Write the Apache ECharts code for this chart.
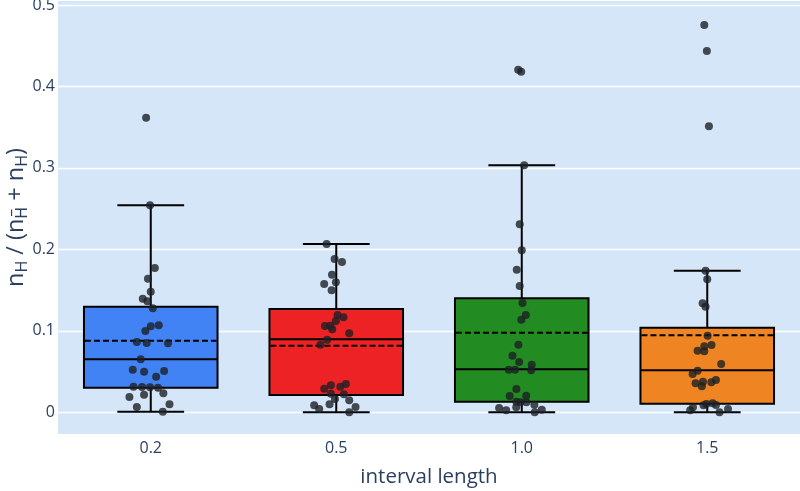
<!DOCTYPE html>
<html>
<head>
<meta charset="utf-8">
<script src="https://cdn.jsdelivr.net/npm/echarts@6/dist/echarts.min.js"></script>
<style>
html,body{margin:0;padding:0;background:#fff;}
#chart{width:800px;height:491px;}
</style>
</head>
<body>
<div id="chart"></div>
<script>
// ---------- data ----------
const categories = ['0.2', '0.5', '1.0', '1.5'];
const yTicks = [0, 0.1, 0.2, 0.3, 0.4, 0.5];

// box statistics
const whiskerLow = [0.0007, 0.0, 0.0, 0.0];
const q1 = [0.0302, 0.0212, 0.0130, 0.0106];
const median = [0.0651, 0.0896, 0.0528, 0.0516];
const q3 = [0.1296, 0.1268, 0.1400, 0.1039];
const whiskerHigh = [0.2541, 0.2066, 0.3032, 0.1738];
const mean = [0.0879, 0.0818, 0.0977, 0.0945];

// individual observations (jitter offset in category units, value)
const jitter02 = [-0.025, -0.004, 0.022, -0.015, 0, -0.043, -0.018, 0.011, 0, 0.043, -0.029, -0.075, -0.022, 0.093, -0.054, -0.097, -0.036, 0.072, 0.029, -0.093, -0.047, -0.004, 0.039, -0.115, -0.036, 0.068, -0.075, 0.101, 0.065];
const values02 = [0.3617, 0.2541, 0.1771, 0.164, 0.148, 0.1395, 0.1363, 0.1277, 0.1056, 0.1068, 0.0998, 0.0863, 0.0851, 0.0847, 0.0651, 0.0523, 0.0498, 0.0507, 0.0437, 0.0315, 0.0311, 0.0307, 0.0302, 0.0188, 0.0216, 0.0233, 0.0065, 0.0098, 0.0007];

const jitter05 = [-0.052, -0.009, 0.031, -0.023, -0.065, -0.002, -0.025, 0.007, 0.039, -0.002, -0.061, -0.032, -0.022, 0.070, -0.049, -0.085, 0.052, 0.022, -0.029, -0.065, -0.029, 0.041, -0.007, 0.070, -0.119, -0.092, -0.036, 0.104, 0.070];
const values05 = [0.2066, 0.1882, 0.1845, 0.1689, 0.1575, 0.1596, 0.1498, 0.1194, 0.1166, 0.1121, 0.1059, 0.1063, 0.1019, 0.097, 0.0891, 0.083, 0.0347, 0.0314, 0.0331, 0.029, 0.0228, 0.0221, 0.0163, 0.0147, 0.0086, 0.0041, 0.0098, 0.0065, 0.0];

const jitter10 = [-0.019, -0.003, 0.013, -0.011, 0, -0.027, -0.011, 0.004, 0.022, -0.002, -0.018, -0.050, -0.014, 0.054, -0.070, -0.036, 0.051, -0.029, -0.065, 0.024, -0.029, -0.007, 0.025, -0.122, -0.084, -0.030, 0.068, 0.108, 0.070];
const values10 = [0.4206, 0.4181, 0.3032, 0.2308, 0.1989, 0.1751, 0.155, 0.1342, 0.1194, 0.1137, 0.083, 0.0695, 0.0617, 0.0584, 0.0523, 0.0523, 0.0516, 0.0286, 0.02, 0.0204, 0.013, 0.0123, 0.0123, 0.0053, 0.0025, 0.0061, 0.0093, 0.0032, 0.0];

const jitter15 = [-0.016, -0.002, 0.009, -0.009, 0, -0.025, -0.009, 0.002, 0.023, -0.016, -0.052, -0.016, 0.075, -0.052, -0.079, 0.047, 0.022, -0.023, -0.063, -0.029, -0.005, 0.029, 0.047, -0.020, -0.077, -0.092, 0.112, 0.066];
const values15 = [0.4755, 0.4435, 0.3511, 0.1738, 0.1633, 0.1338, 0.1296, 0.094, 0.0826, 0.081, 0.0756, 0.0749, 0.0593, 0.0511, 0.047, 0.0397, 0.0368, 0.0376, 0.0356, 0.0319, 0.0102, 0.011, 0.009, 0.0086, 0.0061, 0.0025, 0.0041, 0.0];

// ---------- styles ----------
const boxColors = ['#4183f5', '#ec2224', '#228c22', '#ee8522'];
const textColor = '#2a3f5f';
const fontFamily = "'Open Sans', 'Noto Sans', sans-serif";

const boxData = categories.map((c, i) => [i, whiskerLow[i], q1[i], median[i], q3[i], whiskerHigh[i], mean[i]]);
const jitters = [jitter02, jitter05, jitter10, jitter15];
const valuesAll = [values02, values05, values10, values15];
const pointData = [];
valuesAll.forEach((vals, i) => vals.forEach((v, k) => pointData.push([i + jitters[i][k], v])));

function renderBox(params, api) {
  const idx = api.value(0);
  const band = api.size([1, 0])[0];
  const boxW = band * 0.72;
  const capW = band * 0.36;
  const pLow = api.coord([idx, api.value(1)]);
  const pQ1 = api.coord([idx, api.value(2)]);
  const pMed = api.coord([idx, api.value(3)]);
  const pQ3 = api.coord([idx, api.value(4)]);
  const pHigh = api.coord([idx, api.value(5)]);
  const pMean = api.coord([idx, api.value(6)]);
  const cx = pMed[0];
  const lineStyle = { stroke: '#000', lineWidth: 2 };
  return {
    type: 'group',
    children: [
      { type: 'line', shape: { x1: cx, y1: pLow[1], x2: cx, y2: pQ1[1] }, style: lineStyle },
      { type: 'line', shape: { x1: cx, y1: pQ3[1], x2: cx, y2: pHigh[1] }, style: lineStyle },
      { type: 'line', shape: { x1: cx - capW / 2, y1: pLow[1], x2: cx + capW / 2, y2: pLow[1] }, style: lineStyle },
      { type: 'line', shape: { x1: cx - capW / 2, y1: pHigh[1], x2: cx + capW / 2, y2: pHigh[1] }, style: lineStyle },
      { type: 'rect', shape: { x: cx - boxW / 2, y: pQ3[1], width: boxW, height: pQ1[1] - pQ3[1] },
        style: { fill: boxColors[idx], stroke: '#000', lineWidth: 2 } },
      { type: 'line', shape: { x1: cx - boxW / 2, y1: pMed[1], x2: cx + boxW / 2, y2: pMed[1] }, style: lineStyle },
      { type: 'line', shape: { x1: cx - boxW / 2 + 1, y1: pMean[1], x2: cx + boxW / 2 - 1, y2: pMean[1] },
        style: { stroke: '#000', lineWidth: 2, lineDash: [6, 3] } }
    ]
  };
}

const chart = echarts.init(document.getElementById('chart'), null, { renderer: 'canvas' });
chart.setOption({
  backgroundColor: '#ffffff',
  animation: false,
  textStyle: { fontFamily: fontFamily },
  grid: { left: 58, right: 0, top: 1, bottom: 57, show: true, backgroundColor: '#d5e6f8', borderWidth: 0,
          containLabel: false, outerBoundsMode: 'none' },
  xAxis: [
    {
      type: 'category', data: categories, boundaryGap: true,
      axisLine: { show: false }, axisTick: { show: false }, splitLine: { show: false },
      axisLabel: { color: textColor, fontSize: 16, margin: 6, fontFamily: fontFamily },
      name: 'interval length', nameLocation: 'middle', nameGap: 33, nameMoveOverlap: false,
      nameTextStyle: { color: textColor, fontSize: 20.5, fontFamily: fontFamily }
    },
    { type: 'value', min: -0.5, max: 3.5, show: false }
  ],
  yAxis: {
    type: 'value', min: -0.0266, max: 0.5049,
    axisLine: { show: false },
    axisTick: { show: false, customValues: yTicks },
    axisLabel: {
      customValues: yTicks, color: textColor, fontSize: 16, margin: 3, fontFamily: fontFamily,
      formatter: v => (Math.abs(v) < 1e-9 ? '0' : v.toFixed(1))
    },
    splitLine: { show: true, lineStyle: { color: '#ffffff', width: 1.3 } },
    name: '{n|n}{s|H}{n| / (n}{s|H\u0305}{n| + n}{s|H}{n|)}',
    nameLocation: 'middle', nameRotate: 90, nameGap: 27, nameMoveOverlap: false,
    nameTextStyle: {
      color: textColor, fontFamily: fontFamily,
      rich: {
        n: { fontSize: 23.5, color: textColor, fontFamily: fontFamily, lineHeight: 30 },
        s: { fontSize: 16, color: textColor, fontFamily: fontFamily, padding: [12, 0, 0, 0] }
      }
    }
  },
  series: [
    {
      type: 'custom', xAxisIndex: 0, yAxisIndex: 0, z: 2,
      renderItem: renderBox, data: boxData,
      encode: { x: 0, y: [1, 2, 3, 4, 5, 6] }
    },
    {
      type: 'scatter', xAxisIndex: 1, yAxisIndex: 0, z: 3,
      symbolSize: 8, itemStyle: { color: '#1d2126' },
      data: pointData
    }
  ]
});
</script>
</body>
</html>
